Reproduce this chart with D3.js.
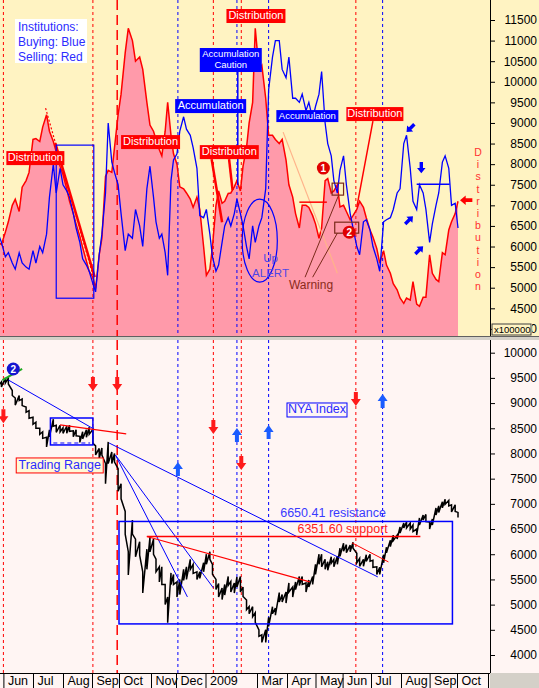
<html>
<head>
<meta charset="utf-8">
<title>Institutions buying / selling and NYA Index</title>
<script src="https://cdn.jsdelivr.net/npm/d3@7"></script>
<style>
body { margin: 0; background: #fff; }
svg { display: block; font-family: "Liberation Sans", Arial, sans-serif; }
</style>
</head>
<body>
<script>

// ---- data (two samples a week) ----
var dates = [
 "2008-05-27","2008-05-30","2008-06-03","2008-06-06","2008-06-10","2008-06-13","2008-06-17","2008-06-20","2008-06-24","2008-06-27",
 "2008-07-01","2008-07-04","2008-07-08","2008-07-11","2008-07-15","2008-07-18","2008-07-22","2008-07-25","2008-07-29",
 "2008-08-01","2008-08-05","2008-08-08","2008-08-12","2008-08-15","2008-08-19","2008-08-22","2008-08-26","2008-08-29",
 "2008-09-02","2008-09-05","2008-09-09","2008-09-12","2008-09-16","2008-09-19","2008-09-23","2008-09-26","2008-09-30",
 "2008-10-03","2008-10-07","2008-10-10","2008-10-14","2008-10-17","2008-10-21","2008-10-24","2008-10-28","2008-10-31",
 "2008-11-04","2008-11-07","2008-11-11","2008-11-14","2008-11-18","2008-11-21","2008-11-25","2008-11-28",
 "2008-12-02","2008-12-05","2008-12-09","2008-12-12","2008-12-16","2008-12-19","2008-12-23","2008-12-26","2008-12-30",
 "2009-01-02","2009-01-06","2009-01-09","2009-01-13","2009-01-16","2009-01-20","2009-01-23","2009-01-27","2009-01-30",
 "2009-02-03","2009-02-06","2009-02-10","2009-02-13","2009-02-17","2009-02-20","2009-02-24","2009-02-27",
 "2009-03-03","2009-03-06","2009-03-10","2009-03-13","2009-03-17","2009-03-20","2009-03-24","2009-03-27","2009-03-31",
 "2009-04-03","2009-04-07","2009-04-10","2009-04-14","2009-04-17","2009-04-21","2009-04-24","2009-04-28",
 "2009-05-01","2009-05-05","2009-05-08","2009-05-12","2009-05-15","2009-05-19","2009-05-22","2009-05-26","2009-05-29",
 "2009-06-02","2009-06-05","2009-06-09","2009-06-12","2009-06-16","2009-06-19","2009-06-23","2009-06-26","2009-06-30",
 "2009-07-03","2009-07-07","2009-07-10","2009-07-14","2009-07-17","2009-07-21","2009-07-24","2009-07-28","2009-07-31",
 "2009-08-04","2009-08-07","2009-08-11","2009-08-14","2009-08-18","2009-08-21","2009-08-25","2009-08-28",
 "2009-09-01","2009-09-04","2009-09-08","2009-09-11","2009-09-15","2009-09-18","2009-09-22","2009-09-25","2009-09-29",
 "2009-10-02"];

// institutions selling (red area), x100000
var selling = [
 6100,6050,6350,6600,7000,7150,6850,7440,7600,7800,
 8600,8620,8550,8900,9200,8800,8550,8300,7950,
 7750,7400,7100,6800,6550,6250,5980,5650,5400,
 5250,4980,5800,6200,7700,7850,7800,8400,9200,
 9700,10700,11300,11000,10500,10600,10300,9500,8950,
 8800,8600,8350,8200,8800,9500,8700,8250,
 8000,7450,7400,7300,7150,6950,7200,6900,6000,
 5300,5450,6000,7000,7350,7050,7100,7290,7300,
 7450,7600,7350,7950,8400,9000,9500,11300,
 10300,10400,9600,8700,8700,8600,8500,8600,8100,
 7500,7200,6800,6450,7000,7000,6950,6750,
 6550,6200,6450,7600,7650,7300,7350,7500,6960,
 7000,6850,6650,6750,6900,7100,6950,6700,6400,
 6230,5950,5600,5900,5550,5350,5100,4950,4750,
 4620,4750,4700,5150,4600,4550,4770,4770,
 5800,5350,5200,5150,5850,5800,6400,6600,6800,
 7100];

// institutions buying (blue line), x100000
var buying = [
 6300,6100,5750,5850,5600,5450,5850,5600,5500,5450,
 5900,5600,6000,5850,6300,7200,8000,7300,7900,
 7500,7350,7200,6800,6450,6100,5700,5550,5400,
 5100,4900,5800,6300,7300,9000,8050,7800,7500,
 6800,5900,6300,6200,6900,6500,6000,7400,7950,
 7200,6600,6200,6300,5850,5300,7600,8100,
 8250,8800,9150,8850,8700,8400,7900,6750,6700,
 6900,6300,5750,5400,5550,6100,6500,6700,6500,
 6800,7150,6800,6500,6000,5700,6500,6100,
 6500,6700,7400,9800,10600,11000,11000,10300,10100,
 10600,9600,9600,9500,9700,9300,9500,9100,
 9400,9700,10250,9000,8500,8200,7600,7300,7850,
 8200,7500,6800,6450,6000,5800,6600,6650,6400,
 6000,5700,5400,6600,6650,6700,6900,7300,7400,
 8500,8700,7900,7100,6900,7500,7300,6900,
 6100,6550,7000,7300,8050,8200,7900,7000,7050,
 6450];

// NYA index, high and low of each sample
var nyaHigh = [
 9450,9420,9500,9500,9250,9100,9150,9080,8920,8850,
 8720,8620,8500,8430,8320,8470,8680,8560,8560,
 8510,8540,8560,8450,8470,8340,8430,8470,8520,
 8480,8150,8100,8110,7800,8230,8030,8000,7700,
 7400,6850,6050,6680,6300,6250,5650,6100,6340,
 6300,5900,5750,5750,5400,5150,5630,5600,
 5450,5500,5700,5750,5900,5800,5650,5650,5830,
 6000,6050,5800,5500,5420,5330,5400,5560,5460,
 5430,5550,5560,5350,5090,4960,4960,4840,
 4500,4400,4500,4750,4960,4930,5240,5200,5250,
 5430,5350,5450,5560,5560,5430,5490,5560,
 5800,6000,6000,5900,5850,5950,5900,5960,6120,
 6220,6190,6180,6240,6020,5920,5900,5990,6000,
 5880,5750,5740,5990,6140,6280,6380,6380,6540,
 6620,6640,6620,6580,6500,6720,6780,6790,
 6640,6700,6920,6960,7040,7090,7070,6980,6980,
 6830];
var nyaLow = [
 9350,9320,9400,9380,9150,8960,9050,8950,8820,8700,
 8580,8500,8380,8300,8130,8330,8540,8420,8430,
 8400,8400,8440,8330,8350,8220,8290,8320,8380,
 8200,7970,7900,7970,7400,7800,7800,7830,7250,
 7100,6400,5590,6400,5950,5980,5230,5700,6050,
 6000,5650,5450,5400,5000,4640,5400,5400,
 5150,5200,5480,5500,5700,5620,5500,5520,5650,
 5800,5900,5600,5300,5150,5100,5190,5380,5250,
 5230,5350,5250,5160,4900,4820,4760,4650,
 4370,4250,4250,4570,4820,4790,5050,5050,5030,
 5250,5150,5300,5380,5400,5250,5350,5400,
 5600,5800,5750,5700,5680,5820,5750,5800,5960,
 6060,6030,6050,6120,5830,5760,5760,5860,5860,
 5740,5600,5600,5830,6030,6150,6270,6300,6420,
 6520,6520,6500,6450,6380,6580,6680,6650,
 6500,6580,6780,6830,6920,6990,6960,6840,6850,
 6730];

// axis ticks
var topTicks = [4000,4500,5000,5500,6000,6500,7000,7500,8000,8500,9000,9500,10000,10500,11000,11500];
var bottomTicks = [4000,4500,5000,5500,6000,6500,7000,7500,8000,8500,9000,9500,10000];
var monthTicks = ["2008-06-01","2008-07-01","2008-08-01","2008-09-01","2008-10-01","2008-11-01","2008-12-01",
 "2009-01-01","2009-03-01","2009-04-01","2009-05-01","2009-06-01","2009-07-01","2009-08-01","2009-09-01","2009-10-01","2009-11-01"];
var monthLabels = ["Jun","Jul","Aug","Sep","Oct","Nov","Dec","2009","Mar","Apr","May","Jun","Jul","Aug","Sep","Oct",""];

// signal days (vertical markers)
var sellDays = ["2008-06-01","2008-09-02","2009-01-10","2009-02-11","2009-06-15"];
var buyDays = ["2008-12-03","2009-02-06","2009-03-13","2009-07-13"];
var crashDays = ["2008-09-29"];
var sellArrows = [["2008-06-01",8740],["2008-09-02",9379],["2008-09-29",9379],["2009-01-10",8526],["2009-02-11",7812],["2009-06-15",9081]];
var buyArrows = [["2008-12-03",7693],["2009-02-06",8367],["2009-03-13",8427],["2009-07-13",9042]];

// levels
var resistance = 6650.41, support = 6351.60;

// ---- layout ----
var width = 539, height = 688;
var plotRight = 490;
var topY0 = 0, topY1 = 336, botY0 = 340, botY1 = 673;
var monthPx = [3.4,33,63,92,119,151,176,205.5,257,287,315.5,342.6,371,401,429.6,457,488];

var parse = d3.timeParse("%Y-%m-%d");
var x = d3.scaleTime().domain(monthTicks.map(parse)).range(monthPx);
var yTop = d3.scaleLinear().domain([4500, 11500]).range([308.3, 20]);
var yBot = d3.scaleLinear().domain([4000, 10000]).range([655, 352.7]);

var rows = dates.map(function(d, i) {
  return { date: parse(d), sell: selling[i], buy: buying[i], hi: nyaHigh[i], lo: nyaLow[i] };
});

var svg = d3.select("body").append("svg")
  .attr("width", width).attr("height", height);

// backgrounds
svg.append("rect").attr("x", 0).attr("y", topY0).attr("width", width).attr("height", topY1 - topY0).attr("fill", "#FFF3C2");
svg.append("rect").attr("x", 0).attr("y", botY0).attr("width", width).attr("height", height - botY0).attr("fill", "#FFF5F3");
svg.append("rect").attr("x", 0).attr("y", topY1).attr("width", width).attr("height", botY0 - topY1).attr("fill", "#D4D0C8");
svg.append("line").attr("x1", 0).attr("x2", width).attr("y1", topY1 + 0.5).attr("y2", topY1 + 0.5).attr("stroke", "#606060");
svg.append("rect").attr("x", plotRight).attr("y", botY1).attr("width", width - plotRight).attr("height", height - botY1).attr("fill", "#D4D0C8");

var defs = svg.append("defs");
defs.append("clipPath").attr("id", "clipTop").append("rect")
  .attr("x", 0).attr("y", topY0).attr("width", plotRight).attr("height", topY1 - topY0);
defs.append("clipPath").attr("id", "clipBot").append("rect")
  .attr("x", 0).attr("y", botY0).attr("width", plotRight).attr("height", botY1 - botY0);
// the multiplier tag hides all but the last digit of the lowest top label
defs.append("clipPath").attr("id", "clipLastDigit").append("rect")
  .attr("x", 42).attr("y", -10).attr("width", 20).attr("height", 20);

var gTop = svg.append("g").attr("clip-path", "url(#clipTop)");
var gBot = svg.append("g").attr("clip-path", "url(#clipBot)");

// ---- top panel: selling area + buying line ----
var area = d3.area()
  .x(function(d) { return x(d.date); })
  .y0(topY1)
  .y1(function(d) { return yTop(d.sell); });
gTop.append("path").datum(rows).attr("d", area).attr("fill", "#FF9AAA");

function vlines(g, list, color, dash, w, y0, y1) {
  g.selectAll(null).data(list).enter().append("line")
    .attr("x1", function(d) { return x(parse(d)); })
    .attr("x2", function(d) { return x(parse(d)); })
    .attr("y1", y0).attr("y2", y1)
    .attr("stroke", color).attr("stroke-width", w)
    .attr("stroke-dasharray", dash);
}
[[gTop, topY0, topY1], [gBot, botY0, botY1]].forEach(function(p) {
  vlines(p[0], sellDays, "#FF0000", "3,3", 1, p[1], p[2]);
  vlines(p[0], buyDays, "#0000FF", "3,3", 1, p[1], p[2]);
  vlines(p[0], crashDays, "#FF0000", "10,5", 1.5, p[1], p[2]);
});

gTop.append("path").datum(rows)
  .attr("d", d3.line().x(function(d) { return x(d.date); }).y(function(d) { return yTop(d.sell); }))
  .attr("fill", "none").attr("stroke", "#FF0000").attr("stroke-width", 1.5);
gTop.append("path").datum(rows)
  .attr("d", d3.line().x(function(d) { return x(d.date); }).y(function(d) { return yTop(d.buy); }))
  .attr("fill", "none").attr("stroke", "#0000FF").attr("stroke-width", 1.3);

// ---- bottom panel: NYA bars ----
var pts = [];
rows.forEach(function(d) {
  pts.push([x(d.date), yBot(d.hi)]);
  pts.push([x(d.date), yBot(d.lo)]);
});
gBot.append("path").attr("d", d3.line()(pts))
  .attr("fill", "none").attr("stroke", "#000").attr("stroke-width", 1.5);

// ---- annotation helpers ----
function seg(g, ys, a, b, color, w, dash) {
  g.append("line")
    .attr("x1", x(parse(a[0]))).attr("y1", ys(a[1]))
    .attr("x2", x(parse(b[0]))).attr("y2", ys(b[1]))
    .attr("stroke", color).attr("stroke-width", w)
    .attr("stroke-dasharray", dash || null);
}
function box(g, ys, d0, d1, v0, v1, color, w, fill) {
  var xa = x(parse(d0)), xb = x(parse(d1));
  g.append("rect").attr("x", xa).attr("y", ys(v0))
    .attr("width", xb - xa).attr("height", ys(v1) - ys(v0))
    .attr("fill", fill || "none").attr("stroke", color).attr("stroke-width", w);
}
function label(g, ys, d) {
  var x0 = x(parse(d.date)), y0 = ys(d.value);
  g.append("rect").attr("x", x0).attr("y", y0).attr("width", d.w).attr("height", d.h)
    .attr("fill", d.fill).attr("stroke", d.stroke || "none");
  var lh = d.size * 1.1;
  var first = y0 + (d.h - d.text.length * lh) / 2 + d.size * 0.82;
  d.text.forEach(function(t, i) {
    g.append("text").attr("x", x0 + d.w / 2).attr("y", first + i * lh)
      .attr("text-anchor", "middle").attr("font-size", d.size)
      .attr("fill", d.color || "#fff").text(t);
  });
}
function arrow(g, cx, cy, angle, scale, color) {
  g.append("path")
    .attr("d", "M0,0 L-6,-5 L-6,-2 L-13,-2 L-13,2 L-6,2 L-6,5 Z")
    .attr("transform", "translate(" + cx + "," + cy + ") rotate(" + angle + ") scale(" + scale + ")")
    .attr("fill", color);
}
function signal(g, d, up, color) {
  var cx = x(parse(d[0])), cy = yBot(d[1]);
  var p = up ? "M-2,7 L2,7 L2,0 L5,0 L0,-7 L-5,0 L-2,0 Z" : "M-2,-7 L2,-7 L2,0 L5,0 L0,7 L-5,0 L-2,0 Z";
  g.append("path").attr("d", p).attr("transform", "translate(" + cx + "," + cy + ")").attr("fill", color);
}
function badge(g, cx, cy, r, fill, t) {
  g.append("circle").attr("cx", cx).attr("cy", cy).attr("r", r).attr("fill", fill);
  g.append("text").attr("x", cx).attr("y", cy + 3.6).attr("text-anchor", "middle")
    .attr("font-size", 10).attr("font-weight", "bold").attr("fill", "#fff").text(t);
}

// ---- top panel annotations ----
var ann = svg.append("g").attr("clip-path", "url(#clipTop)");

seg(ann, yTop, ["2008-07-14", 9360], ["2008-09-02", 5304], "#FF0000", 1.2, "2,2");
seg(ann, yTop, ["2008-07-24", 8511], ["2008-09-04", 5255], "#FF0000", 2.5);
box(ann, yTop, "2008-07-25", "2008-09-03", 8462, 4745, "#0000FF", 1.2);
seg(ann, yTop, ["2009-01-08", 8122], ["2009-01-20", 6591], "#FF0000", 2.5);
seg(ann, yTop, ["2009-01-28", 8122], ["2009-02-01", 7369], "#FF0000", 2.5);
seg(ann, yTop, ["2009-02-07", 10236], ["2009-02-07", 7490], "#0000FF", 1.5);
seg(ann, yTop, ["2009-07-03", 9046], ["2009-06-16", 6956], "#FF0000", 1.5);
seg(ann, yTop, ["2009-03-28", 8778], ["2009-05-26", 5352], "#FFB38A", 1.2);
seg(ann, yTop, ["2009-04-14", 7077], ["2009-05-14", 7077], "#FF0000", 1.5);
seg(ann, yTop, ["2009-08-18", 7515], ["2009-09-23", 7515], "#0000FF", 1.5);
seg(ann, yTop, ["2009-04-20", 5255], ["2009-05-27", 7223], "#7A2A1A", 1);
seg(ann, yTop, ["2009-04-28", 5255], ["2009-05-26", 6324], "#7A2A1A", 1);
box(ann, yTop, "2009-05-20", "2009-06-02", 7539, 7248, "#7A2A1A", 1.2);
box(ann, yTop, "2009-05-23", "2009-06-18", 6591, 6324, "#7A2A1A", 1.2);

// Up ALERT ellipse
(function() {
  var xa = x(parse("2009-02-12")), xb = x(parse("2009-03-22"));
  var ya = yTop(7150), yb = yTop(5134);
  ann.append("ellipse").attr("cx", (xa + xb) / 2).attr("cy", (ya + yb) / 2)
    .attr("rx", (xb - xa) / 2).attr("ry", (yb - ya) / 2)
    .attr("fill", "none").attr("stroke", "#0000FF").attr("stroke-width", 1.2);
  ann.append("text").attr("x", x(parse("2009-03-15"))).attr("y", yTop(5620))
    .attr("text-anchor", "middle").attr("font-size", 11.5).attr("fill", "#4F46E5").text("Up");
  ann.append("text").attr("x", x(parse("2009-03-15"))).attr("y", yTop(5255))
    .attr("text-anchor", "middle").attr("font-size", 11.5).attr("fill", "#4F46E5").text("ALERT");
})();

ann.append("text").attr("x", x(parse("2009-04-03"))).attr("y", yTop(4963))
  .attr("font-size", 12).attr("fill", "#8B2A1A").text("Warning");

badge(ann, x(parse("2009-05-10")), yTop(7904), 6.5, "#E00000", "1");
badge(ann, x(parse("2009-06-08")), yTop(6348), 6.5, "#E00000", "2");

var topLabels = [
  { text: ["Distribution"], date: "2008-06-04", value: 8317, w: 58, h: 14, size: 11, fill: "#FF0000" },
  { text: ["Distribution"], date: "2008-10-03", value: 8706, w: 59, h: 14, size: 11, fill: "#FF0000" },
  { text: ["Distribution"], date: "2008-12-26", value: 8462, w: 59, h: 14, size: 11, fill: "#FF0000" },
  { text: ["Distribution"], date: "2009-01-25", value: 11767, w: 59, h: 14, size: 11, fill: "#FF0000" },
  { text: ["Distribution"], date: "2009-06-05", value: 9386, w: 57, h: 14, size: 11, fill: "#FF0000" },
  { text: ["Accumulation"], date: "2008-11-30", value: 9580, w: 71, h: 14, size: 11, fill: "#0000FF" },
  { text: ["Accumulation", "Caution"], date: "2008-12-26", value: 10820, w: 62, h: 24, size: 9.5, fill: "#0000FF" },
  { text: ["Accumulation"], date: "2009-03-21", value: 9313, w: 62, h: 12, size: 9.5, fill: "#0000FF" }
];
topLabels.forEach(function(d) { label(ann, yTop, d); });

// blue arrows around the last swing, red arrow at the right
arrow(svg, x(parse("2009-08-07")), yTop(8778), 135, 0.85, "#0000FF");
arrow(svg, x(parse("2009-08-23")), yTop(7782), 90, 0.85, "#0000FF");
arrow(svg, x(parse("2009-08-14")), yTop(6737), -45, 0.85, "#0000FF");
arrow(svg, x(parse("2009-08-25")), yTop(6008), -45, 0.85, "#0000FF");
arrow(svg, x(parse("2009-10-04")), yTop(7126), 180, 0.95, "#FF0000");

// vertical "Distribution"
"Distribution".split("").forEach(function(c, i) {
  svg.append("text").attr("x", x(parse("2009-10-22"))).attr("y", yTop(8200) + i * 12.2)
    .attr("text-anchor", "middle").attr("font-size", 10.5).attr("fill", "#FF3030").text(c);
});

// legend
svg.append("rect").attr("x", 15).attr("y", 19).attr("width", 72).attr("height", 44).attr("fill", "#fff");
["Institutions:", "Buying: Blue", "Selling: Red"].forEach(function(t, i) {
  svg.append("text").attr("x", 18).attr("y", 31 + i * 15).attr("font-size", 12)
    .attr("fill", "#2B2BFF").text(t);
});

// ---- bottom panel annotations ----
var ann2 = svg.append("g").attr("clip-path", "url(#clipBot)");
seg(ann2, yBot, ["2008-06-06", 9458], ["2008-09-01", 8506], "#0000FF", 1);
seg(ann2, yBot, ["2008-09-20", 8208], ["2009-07-08", 5550], "#0000FF", 1);
seg(ann2, yBot, ["2008-09-27", 7970], ["2008-12-13", 5153], "#0000FF", 1);
seg(ann2, yBot, ["2008-09-27", 7970], ["2009-01-10", 5332], "#0000FF", 1);
box(ann2, yBot, "2008-07-19", "2008-09-02", 8704, 8169, "#0000FF", 1.5);
seg(ann2, yBot, ["2008-07-29", 8566], ["2008-10-08", 8387], "#FF0000", 1.2);
seg(ann2, yBot, ["2008-07-22", 8208], ["2008-08-30", 8208], "#0000FF", 1.2, "4,3");
box(ann2, yBot, "2008-10-01", "2009-09-26", resistance, 4617, "#0000FF", 1.5);
seg(ann2, yBot, ["2008-10-28", support], ["2009-08-22", support], "#FF0000", 1.5);
seg(ann2, yBot, ["2008-10-28", support], ["2009-04-25", 5452], "#FF0000", 1.2);
seg(ann2, yBot, ["2009-06-11", 6225], ["2009-07-19", 5848], "#FF0000", 1);
seg(ann2, yBot, ["2008-05-31", 9458], ["2008-06-20", 9677], "#22AA22", 2);
badge(ann2, x(parse("2008-06-11")), yBot(9677), 6.5, "#1515D0", "2");

ann2.append("text").attr("x", x(parse("2009-03-25"))).attr("y", yBot(6737))
  .attr("font-size", 12.5).attr("fill", "#3A3AFF").text(resistance.toFixed(2) + " resistance");
ann2.append("text").attr("x", x(parse("2009-04-12"))).attr("y", yBot(6420))
  .attr("font-size", 12.5).attr("fill", "#FF2020").text(support.toFixed(2) + " support");

label(ann2, yBot, { text: ["Trading Range"], date: "2008-06-14", value: 7911, w: 87, h: 15, size: 12.5,
  fill: "#FFF9D8", stroke: "#FF0000", color: "#2B2BFF" });
label(ann2, yBot, { text: ["NYA Index"], date: "2009-04-01", value: 9002, w: 60, h: 14, size: 12.5,
  fill: "#FFF5F3", stroke: "#0000FF", color: "#2B2BFF" });

sellArrows.forEach(function(d) { signal(ann2, d, false, "#FF1A1A"); });
buyArrows.forEach(function(d) { signal(ann2, d, true, "#1A5CFF"); });

// ---- axes ----
function valueAxis(scale, ticks, y0, y1) {
  var g = svg.append("g").attr("transform", "translate(" + plotRight + ",0)")
    .call(d3.axisRight(scale).tickValues(ticks).tickSize(5).tickFormat(d3.format("d")));
  g.select(".domain").remove();
  g.selectAll("text").attr("x", 47).attr("text-anchor", "end")
    .attr("font-size", 12).attr("font-family", "Liberation Sans, Arial, sans-serif").attr("fill", "#000");
  svg.append("line").attr("x1", plotRight + 0.5).attr("x2", plotRight + 0.5)
    .attr("y1", y0).attr("y2", y1).attr("stroke", "#000");
  return g;
}
var topAxis = valueAxis(yTop, topTicks, topY0, topY1);
valueAxis(yBot, bottomTicks, botY0, botY1);
topAxis.selectAll(".tick").filter(function(d) { return d === 4000; })
  .select("text").attr("clip-path", "url(#clipLastDigit)");

// x100000 multiplier tag
svg.append("rect").attr("x", 492).attr("y", 324).attr("width", 39).attr("height", 11)
  .attr("fill", "#FFF3C2").attr("stroke", "#404040");
svg.append("text").attr("x", 494).attr("y", 333).attr("font-size", 9.5).attr("fill", "#000").text("x100000");

// month axis
var xa = svg.append("g").attr("transform", "translate(0," + botY1 + ")")
  .call(d3.axisBottom(x).tickValues(monthTicks.map(parse)).tickSize(height - botY1)
    .tickFormat(function(d, i) { return monthLabels[i]; }));
xa.select(".domain").remove();
xa.selectAll("line").attr("stroke", "#000");
xa.selectAll("text").attr("x", 4).attr("y", 3).attr("dy", "0.71em").attr("text-anchor", "start")
  .attr("font-size", 12.5).attr("font-family", "Liberation Sans, Arial, sans-serif").attr("fill", "#000");
svg.append("line").attr("x1", 0).attr("x2", plotRight).attr("y1", botY1 + 0.5).attr("y2", botY1 + 0.5).attr("stroke", "#000");

</script>
</body>
</html>
